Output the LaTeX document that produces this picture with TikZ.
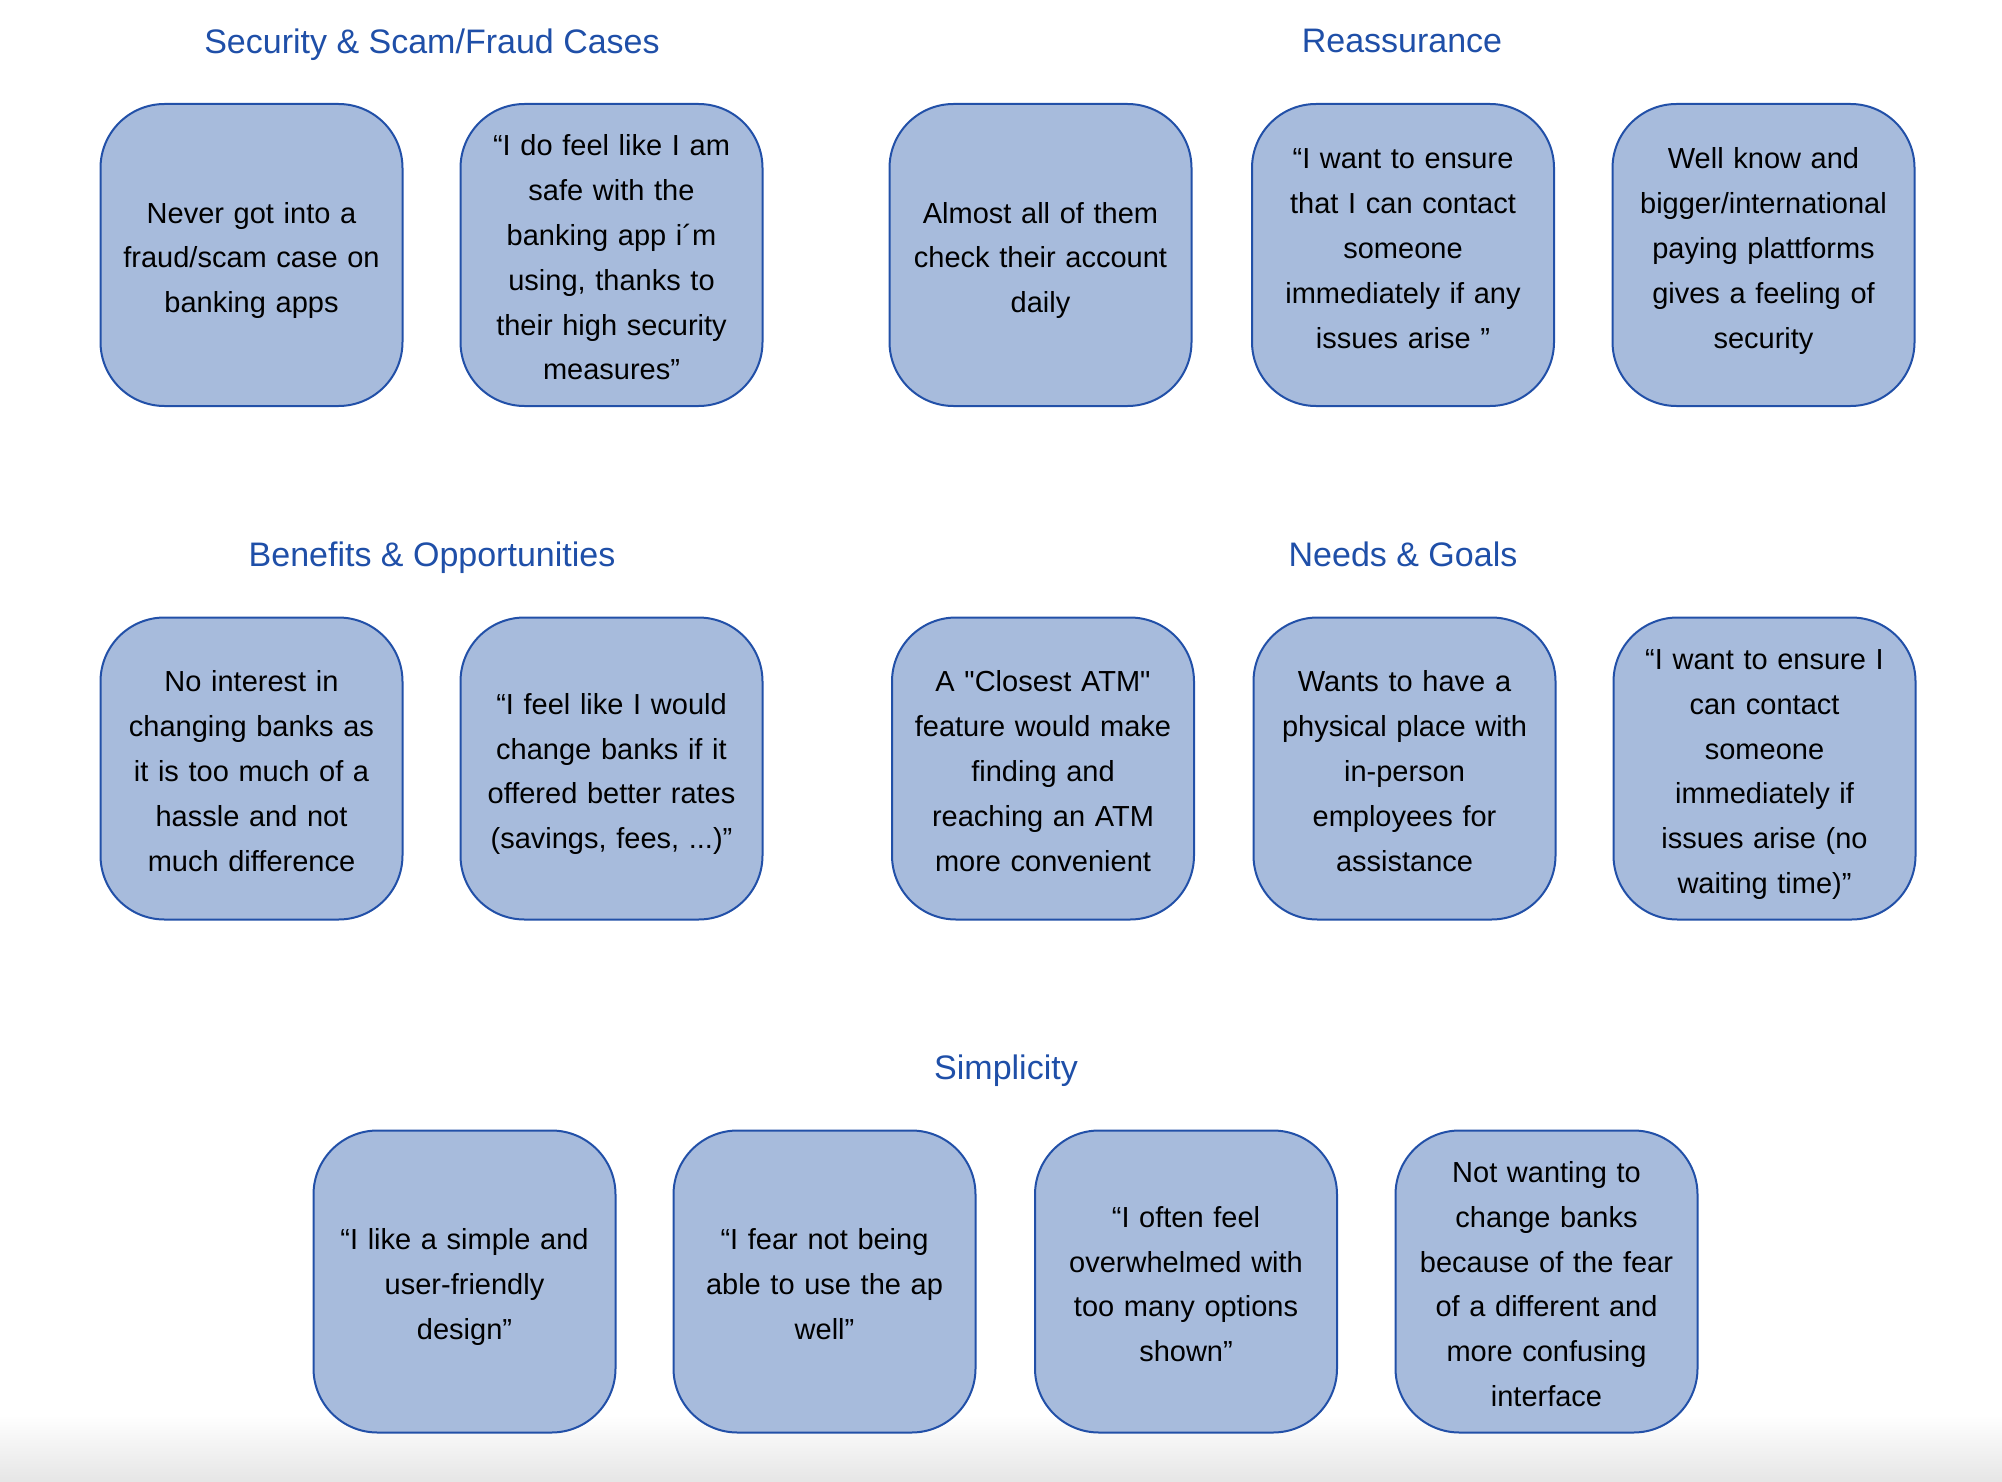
\documentclass[tikz,border=0pt]{standalone}
\usepackage{fontspec}
\newfontfamily\bodyfont{Liberation Sans}
\definecolor{cardfill}{RGB}{167,187,220}
\definecolor{cardborder}{RGB}{34,80,168}
\definecolor{titleblue}{RGB}{31,79,168}
\begin{document}
\begin{tikzpicture}[x=0.5pt,y=-0.5pt,
  card/.style={draw=cardborder, fill=cardfill, line width=1pt, rounded corners=32pt,
    minimum width=151pt, minimum height=151pt, inner sep=0pt, align=center,
    text width=148pt, text height=13pt, font=\bodyfont\fontsize{14.5}{22.4}\selectfont},
  lthree/.style={text depth=44.8pt},
  lfour/.style={text depth=67.2pt},
  lfive/.style={text depth=89.6pt},
  lsix/.style={text depth=112pt},
  raised/.style={text height=3.6pt},
  grouptitle/.style={text=titleblue, inner sep=0pt, text depth=0pt, font=\bodyfont\fontsize{17}{20}\selectfont}]
\useasboundingbox (0,0) rectangle (2002,1482);
\fill[white] (0,0) rectangle (2002,1482);
\shade[top color=white, bottom color=black!10] (0,1415) rectangle (2002,1482);

% titles
\node[grouptitle] (t1) at (432,41) {Security \& Scam/Fraud Cases};
\node[grouptitle] (t2) at (1402,41) {Reassurance};
\node[grouptitle] (t3) at (432,554) {Benefits \& Opportunities};
\node[grouptitle] (t4) at (1403,554) {Needs \& Goals};
\node[grouptitle] (t5) at (1006,1067) {Simplicity};

% row 1
\node[card, lthree] (a1) at (251.5,255) {Never got into a\\fraud/scam case on\\banking apps};
\node[card, lsix] (a2) at (611.5,255) {“I do feel like I am\\safe with the\\banking app i´m\\using, thanks to\\their high security\\measures”};
\node[card, lthree] (a3) at (1040.5,255) {Almost all of them\\check their account\\daily};
\node[card, lfive, raised] (a4) at (1403,255) {“I want to ensure\\that I can contact\\someone\\immediately if any\\issues arise ”};
\node[card, lfive, raised] (a5) at (1763.5,255) {Well know and\\bigger/international\\paying plattforms\\gives a feeling of\\security};

% row 2
\node[card, lfive] (b1) at (251.5,768.5) {No interest in\\changing banks as\\it is too much of a\\hassle and not\\much difference};
\node[card, lfour] (b2) at (611.5,768.5) {“I feel like I would\\change banks if it\\offered better rates\\(savings, fees, ...)”};
\node[card, lfive] (b3) at (1043,768.5) {A "Closest ATM"\\feature would make\\finding and\\reaching an ATM\\more convenient};
\node[card, lfive] (b4) at (1404.5,768.5) {Wants to have a\\physical place with\\in-person\\employees for\\assistance};
\node[card, lsix] (b5) at (1764.5,768.5) {“I want to ensure I\\can contact\\someone\\immediately if\\issues arise (no\\waiting time)”};

% row 3
\node[card, lthree] (c1) at (464.5,1281.5) {“I like a simple and\\user-friendly\\design”};
\node[card, lthree] (c2) at (824.5,1281.5) {“I fear not being\\able to use the ap\\well”};
\node[card, lfour] (c3) at (1186,1281.5) {“I often feel\\overwhelmed with\\too many options\\shown”};
\node[card, lsix] (c4) at (1546.5,1281.5) {Not wanting to\\change banks\\because of the fear\\of a different and\\more confusing\\interface};
\end{tikzpicture}
\end{document}
